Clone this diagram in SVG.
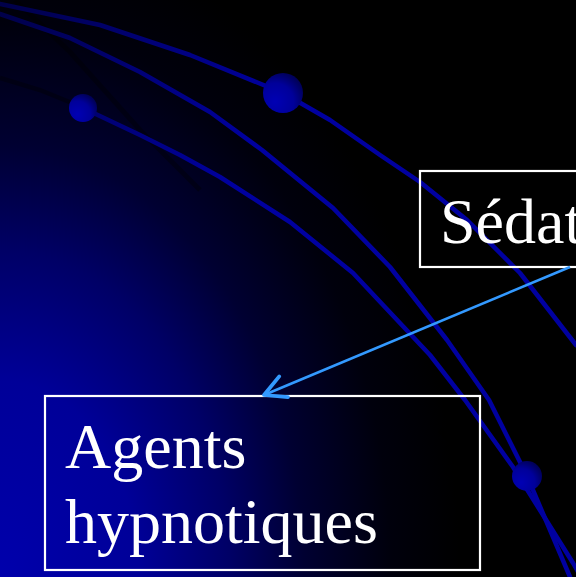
<svg xmlns="http://www.w3.org/2000/svg" width="576" height="577" viewBox="0 0 576 577">
  <defs>
    <radialGradient id="bg" gradientUnits="userSpaceOnUse" cx="0" cy="577" r="460" gradientTransform="translate(0,577) scale(1,1.42) translate(0,-577)">
      <stop offset="0" stop-color="#0000ac"/>
      <stop offset="0.3" stop-color="#000098"/>
      <stop offset="0.5" stop-color="#000066"/>
      <stop offset="0.66" stop-color="#000032"/>
      <stop offset="0.85" stop-color="#00000c"/>
      <stop offset="1" stop-color="#000000"/>
    </radialGradient>
    <linearGradient id="lineGrad" gradientUnits="userSpaceOnUse" x1="0" y1="0" x2="260" y2="130">
      <stop offset="0" stop-color="#000048"/>
      <stop offset="1" stop-color="#0000a0"/>
    </linearGradient>
    <radialGradient id="ball" cx="0.3" cy="0.72" r="0.85">
      <stop offset="0" stop-color="#0000b4"/>
      <stop offset="0.55" stop-color="#00009a"/>
      <stop offset="1" stop-color="#000048"/>
    </radialGradient>
    <marker id="openArrow" markerUnits="userSpaceOnUse" markerWidth="30" markerHeight="30" viewBox="-20 -12 24 24" refX="0" refY="0" orient="auto">
      <path d="M -17,-9 L 0,0 L -17,9" fill="none" stroke="#3399ff" stroke-width="3" stroke-linecap="round" stroke-linejoin="round"/>
    </marker>
    <style>
      .curve { fill: none; stroke: url(#lineGrad); stroke-width: 4.5; stroke-linejoin: round; stroke-linecap: round; }
      .shadow { fill: none; stroke: #000000; stroke-opacity: 0.35; stroke-width: 5; }
      .box { fill: none; stroke: #ffffff; stroke-width: 2.2; }
      .label { font-family: "Liberation Serif", "Times New Roman", serif; font-size: 64px; fill: #ffffff; }
      .conn { fill: none; stroke: #3399ff; stroke-width: 2.6; }
    </style>
  </defs>

  <rect x="0" y="0" width="576" height="577" fill="url(#bg)"/>

  <!-- faint shadow strokes -->
  <polyline class="shadow" points="15,0 70,52 140,130 200,190"/>
  <polyline class="shadow" points="440,430 500,490 576,565"/>
  <polyline points="0,78 40,90 72,103" fill="none" stroke="#000010" stroke-opacity="0.7" stroke-width="4.5"/>

  <!-- decorative curves -->
  <polyline class="curve" points="0,4 100,25 190,55 283,93 330,120 380,155 420,182 467,220 520,273 576,345"/>
  <polyline class="curve" points="0,14 70,38 140,72 210,112 262,150 333,208 390,267 447,340 489,400 527,476 570,577"/>
  <polyline class="curve" points="83,108 140,135 180,155 220,177 290,222 353,273 430,355 465,400 513,467 573,563 581,577"/>

  <!-- spheres -->
  <circle cx="83" cy="108" r="14" fill="url(#ball)"/>
  <circle cx="283" cy="93" r="20" fill="url(#ball)"/>
  <circle cx="527" cy="476" r="15" fill="url(#ball)"/>

  <g id="node-sedation">
    <rect class="box" x="420" y="171" width="170" height="96"/>
    <text class="label" x="440" y="243">Sédat</text>
  </g>

  <g id="node-agents">
    <rect class="box" x="45" y="396" width="435" height="174"/>
    <text class="label" x="65" y="468">Agents</text>
    <text class="label" x="65" y="543">hypnotiques</text>
  </g>

  <g id="connectors">
    <line class="conn" x1="570" y1="267" x2="264" y2="395" marker-end="url(#openArrow)"/>
  </g>
</svg>
